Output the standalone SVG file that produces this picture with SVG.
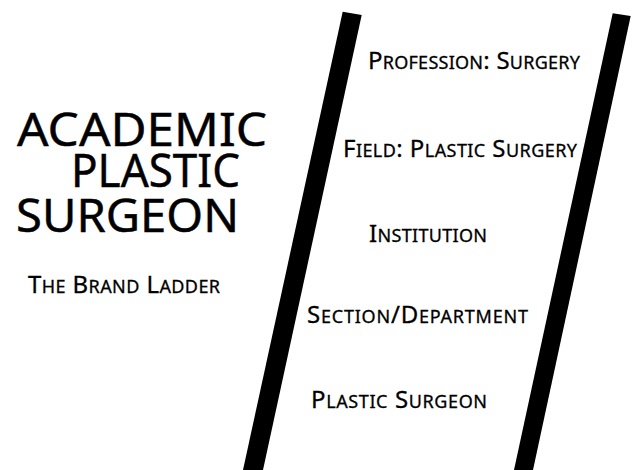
<svg xmlns="http://www.w3.org/2000/svg" width="632" height="470" viewBox="0 0 632 470">
<style>
text{font-family:"Noto Sans","Open Sans","Liberation Sans",sans-serif;font-weight:400;fill:#000;stroke:#000;stroke-width:0.3px}
.t{font-size:46px;stroke-width:0.45px}
.b{font-size:24px}
.s{font-size:18px}
.rail{fill:#000}
</style>
<rect width="632" height="470" fill="#fff"/>
<g id="rails">
<polygon class="rail" points="342.7,11.7 361.7,15 263,470 243,470"/>
<polygon class="rail" points="612.7,13.3 630.7,16 533,470 514,470"/>
</g>
<g id="title">
<text class="t"><tspan x="17" y="146" textLength="250" lengthAdjust="spacingAndGlyphs">ACADEMIC</tspan><tspan x="71" y="187" textLength="169" lengthAdjust="spacingAndGlyphs">PLASTIC</tspan><tspan x="16" y="232" textLength="223" lengthAdjust="spacingAndGlyphs">SURGEON</tspan></text>
</g>
<g id="subtitle">
<text x="28" y="293" textLength="192"><tspan class="b">T</tspan><tspan class="s">HE</tspan><tspan class="b"> B</tspan><tspan class="s">RAND</tspan><tspan class="b"> L</tspan><tspan class="s">ADDER</tspan></text>
</g>
<g id="rung-profession">
<text x="368" y="69" textLength="212"><tspan class="b">P</tspan><tspan class="s">ROFESSION</tspan><tspan class="b">: S</tspan><tspan class="s">URGERY</tspan></text>
</g>
<g id="rung-field">
<text x="343" y="157" textLength="234"><tspan class="b">F</tspan><tspan class="s">IELD</tspan><tspan class="b">: P</tspan><tspan class="s">LASTIC</tspan><tspan class="b"> S</tspan><tspan class="s">URGERY</tspan></text>
</g>
<g id="rung-institution">
<text x="369" y="242" textLength="118"><tspan class="b">I</tspan><tspan class="s">NSTITUTION</tspan></text>
</g>
<g id="rung-section">
<text x="307" y="323" textLength="221"><tspan class="b">S</tspan><tspan class="s">ECTION</tspan><tspan class="b">/D</tspan><tspan class="s">EPARTMENT</tspan></text>
</g>
<g id="rung-surgeon">
<text x="311" y="408" textLength="176"><tspan class="b">P</tspan><tspan class="s">LASTIC</tspan><tspan class="b"> S</tspan><tspan class="s">URGEON</tspan></text>
</g>
</svg>
